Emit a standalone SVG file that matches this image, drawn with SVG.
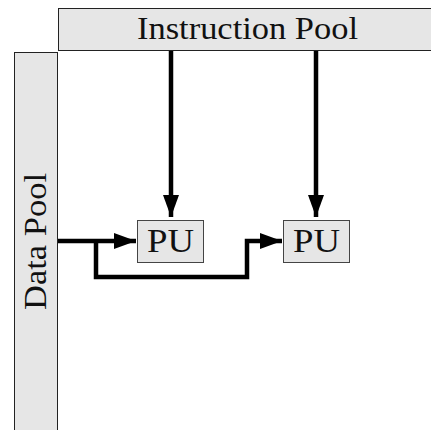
<svg xmlns="http://www.w3.org/2000/svg" width="431" height="430" viewBox="0 0 431 430">
  <defs>
    <style>
      .pool { fill: #e6e6e6; stroke: #222; stroke-width: 1; }
      .pu { fill: #e6e6e6; stroke: #444; stroke-width: 1; }
      .wire { fill: none; stroke: #000; stroke-width: 4.5; stroke-linejoin: miter; }
    </style>
    <marker id="head" markerUnits="userSpaceOnUse" markerWidth="24" markerHeight="16" refX="22" refY="8" orient="auto">
      <path d="M0,0 L22,8 L0,16 Z" fill="#000"/>
    </marker>
  </defs>
  <rect width="431" height="430" fill="#fff"/>

  <g font-family="Liberation Serif, serif" fill="#111">
    <g id="instruction-pool">
      <rect class="pool" x="58.5" y="8.5" width="380" height="42"/>
      <text x="247.5" y="39" font-size="31" text-anchor="middle" textLength="221" lengthAdjust="spacingAndGlyphs">Instruction Pool</text>
    </g>

    <g id="data-pool">
      <rect class="pool" x="14.5" y="52.5" width="43" height="390"/>
      <text transform="translate(45.5,241.5) rotate(-90)" font-size="31" text-anchor="middle" textLength="137" lengthAdjust="spacingAndGlyphs">Data Pool</text>
    </g>

    <g id="pu1">
      <rect class="pu" x="137.5" y="220.5" width="66" height="42"/>
      <text x="170.5" y="252" font-size="33" text-anchor="middle" textLength="47" lengthAdjust="spacingAndGlyphs">PU</text>
    </g>

    <g id="pu2">
      <rect class="pu" x="283.5" y="220.5" width="66" height="42"/>
      <text x="316.5" y="252" font-size="33" text-anchor="middle" textLength="47" lengthAdjust="spacingAndGlyphs">PU</text>
    </g>
  </g>

  <g id="connectors">
    <path class="wire" d="M171,51 V217" marker-end="url(#head)"/>
    <path class="wire" d="M316,51 V217" marker-end="url(#head)"/>
    <path class="wire" d="M58,241 H136" marker-end="url(#head)"/>
    <path class="wire" d="M96,241 V277 H247 V241 H282" marker-end="url(#head)"/>
  </g>
</svg>
